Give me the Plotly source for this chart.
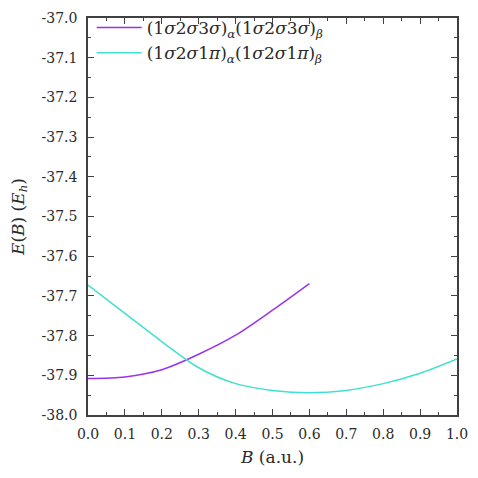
import plotly.graph_objects as go

B1 = [0.0, 0.1, 0.2, 0.3, 0.4, 0.5, 0.6]
E1 = [-37.908, -37.904, -37.886, -37.847, -37.799, -37.736, -37.669]

B2 = [0.0, 0.1, 0.2, 0.3, 0.4, 0.5, 0.6, 0.7, 0.8, 0.9, 1.0]
E2 = [-37.673, -37.744, -37.815, -37.881, -37.921, -37.938, -37.944,
      -37.938, -37.921, -37.895, -37.859]

name1 = "(1<i>σ</i>2<i>σ</i>3<i>σ</i>)<sub><i>α</i></sub>(1<i>σ</i>2<i>σ</i>3<i>σ</i>)<sub><i>β</i></sub>"
name2 = "(1<i>σ</i>2<i>σ</i>1<i>π</i>)<sub><i>α</i></sub>(1<i>σ</i>2<i>σ</i>1<i>π</i>)<sub><i>β</i></sub>"

yticks = [-37.0, -37.1, -37.2, -37.3, -37.4, -37.5, -37.6, -37.7, -37.8, -37.9, -38.0]
yticktext = ["-37.0", "-37.1", "-37.2", "-37.3", "-37.4", "-37.5", "-37.6", "-37.7", "-37.8", "-37.9", "-38.0"]
xticks = [0.0, 0.1, 0.2, 0.3, 0.4, 0.5, 0.6, 0.7, 0.8, 0.9, 1.0]
xticktext = ["0.0", "0.1", "0.2", "0.3", "0.4", "0.5", "0.6", "0.7", "0.8", "0.9", "1.0"]

font = "DejaVu Serif"
txt = "#2a2a2a"

fig = go.Figure()
fig.add_trace(go.Scatter(x=B1, y=E1, mode="lines", name=name1,
                         line=dict(color="#9933ee", width=1.5, shape="spline", smoothing=0.8)))
fig.add_trace(go.Scatter(x=B2, y=E2, mode="lines", name=name2,
                         line=dict(color="#40e0d0", width=1.5, shape="spline", smoothing=0.8)))

axis_common = dict(showline=True, linecolor="#404040", linewidth=1.5,
                   mirror="allticks", ticks="inside", ticklen=6, tickwidth=1,
                   tickcolor="#404040", showgrid=False, zeroline=False,
                   tickfont=dict(family=font, size=14, color=txt))

fig.update_xaxes(range=[0, 1], tickvals=xticks, ticktext=xticktext,
                 ticklabelstandoff=5,
                 minor=dict(ticks="inside", ticklen=3, dtick=0.05, tick0=0, tickcolor="#404040"),
                 title=dict(text="<i>B</i> (a.u.)", font=dict(family=font, size=17, color=txt), standoff=11),
                 **axis_common)
fig.update_yaxes(range=[-38.0, -37.0], tickvals=yticks, ticktext=yticktext,
                 ticklabelstandoff=6,
                 minor=dict(ticks="inside", ticklen=3, dtick=0.05, tick0=-38, tickcolor="#404040"),
                 title=dict(text="<i>E</i>(<i>B</i>) (<i>E<sub>h</sub></i>)", font=dict(family=font, size=17, color=txt), standoff=13),
                 **axis_common)

fig.update_layout(width=478, height=478,
                  margin=dict(l=88, r=17, t=10, b=63),
                  paper_bgcolor="white", plot_bgcolor="white",
                  legend=dict(x=0.01, y=1.02, xanchor="left", yanchor="top",
                              bgcolor="rgba(0,0,0,0)", itemwidth=45,
                              font=dict(family=font, size=17, color=txt),
                              tracegroupgap=0))

fig.write_html("out.html")
